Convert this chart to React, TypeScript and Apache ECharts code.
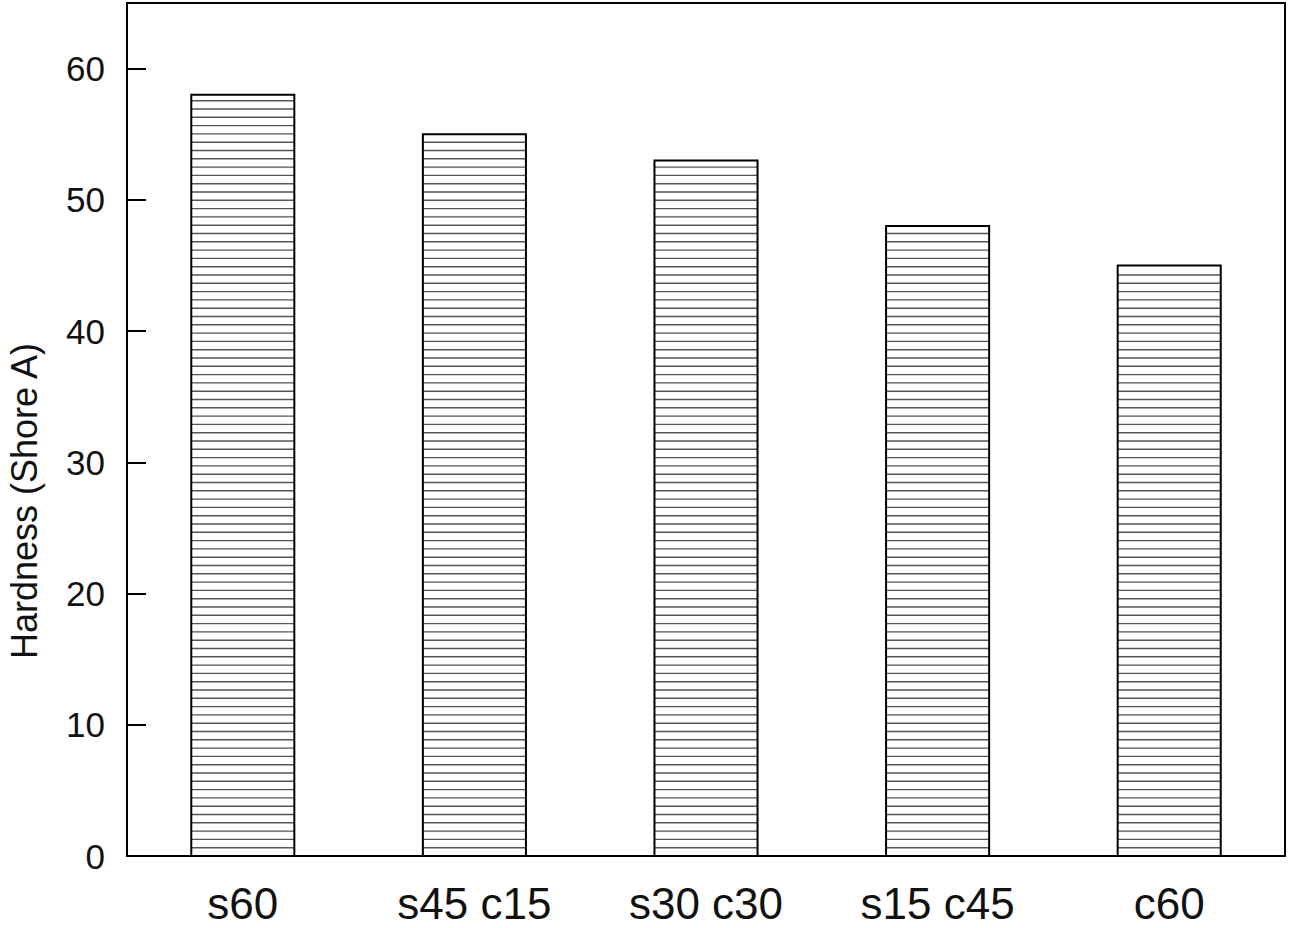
import React, { useEffect, useRef } from "react";
import * as echarts from "echarts";

const categories = ["s60", "s45 c15", "s30 c30", "s15 c45", "c60"];
const hardness = [58, 55, 53, 48, 45];
const yTicks = [0, 10, 20, 30, 40, 50, 60];
const yTitle = "Hardness (Shore A)";

export default function App() {
  const ref = useRef<HTMLDivElement>(null);
  useEffect(() => {
    if (!ref.current) return;
    const chart = echarts.init(ref.current, null, { renderer: "svg" });
    const font = "'Liberation Sans', Arial, sans-serif";
    chart.setOption({
      animation: false,
      backgroundColor: "#ffffff",
      grid: {
        left: 127,
        right: 6,
        top: 3,
        bottom: 72,
        show: true,
        borderColor: "#000",
        borderWidth: 2,
      },
      graphic: [
        {
          type: "text",
          x: 24,
          y: 501,
          rotation: Math.PI / 2,
          style: {
            text: yTitle,
            fontSize: 36,
            fontFamily: font,
            fill: "#111",
            align: "center",
            verticalAlign: "middle",
          },
        },
      ],
      xAxis: {
        type: "category",
        data: categories,
        axisLine: { lineStyle: { color: "#000", width: 2 } },
        axisTick: { show: false },
        axisLabel: {
          color: "#111",
          fontSize: 44,
          fontFamily: font,
          margin: 25,
        },
        splitLine: { show: false },
      },
      yAxis: {
        type: "value",
        min: 0,
        max: 65,
        interval: 10,
        axisLine: { show: true, lineStyle: { color: "#000", width: 2 } },
        axisTick: { show: true, inside: true, length: 19, lineStyle: { color: "#000", width: 2 } },
        axisLabel: {
          color: "#111",
          fontSize: 35,
          fontFamily: font,
          margin: 22,
          formatter: (v: number) => (yTicks.includes(v) ? String(v) : ""),
        },
        splitLine: { show: false },
      },
      series: [
        {
          type: "custom",
          data: hardness.map((v, i) => [i, v]),
          encode: { x: 0, y: 1 },
          renderItem: (params: any, api: any) => {
            const idx = api.value(0);
            const val = api.value(1);
            const top = api.coord([idx, val]);
            const base = api.coord([idx, 0]);
            const band = api.size([1, 0])[0];
            const bw = band * 0.445;
            const x0 = top[0] - bw / 2;
            const children: any[] = [
              {
                type: "rect",
                shape: { x: x0, y: top[1], width: bw, height: base[1] - top[1] },
                style: { fill: "#fff", stroke: "none" },
              },
            ];
            const step = 8.3;
            for (let y = base[1] - step; y > top[1] + 2; y -= step) {
              children.push({
                type: "line",
                shape: { x1: x0, y1: y, x2: x0 + bw, y2: y },
                style: { stroke: "#555", lineWidth: 1.4 },
              });
            }
            children.push({
              type: "rect",
              shape: { x: x0, y: top[1], width: bw, height: base[1] - top[1] },
              style: { fill: "none", stroke: "#000", lineWidth: 2 },
            });
            return { type: "group", children };
          },
        },
      ],
    });
    return () => chart.dispose();
  }, []);
  return (
    <div
      ref={ref}
      style={{ position: "fixed", left: 0, top: 0, width: 1291, height: 928, background: "#fff" }}
    />
  );
}
